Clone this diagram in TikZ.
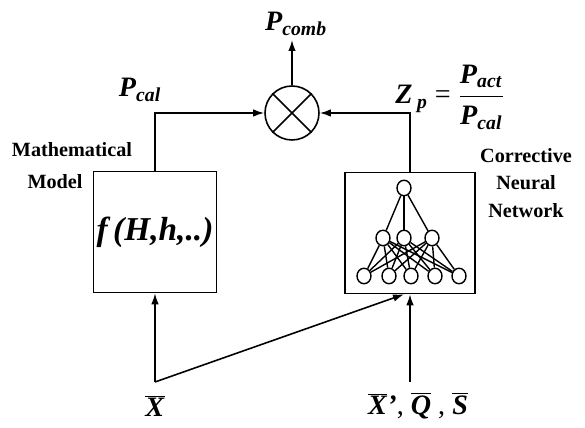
\documentclass[tikz,border=0pt]{standalone}
\usepackage{fontspec}
\setmainfont{Liberation Serif}
\usetikzlibrary{arrows.meta,positioning,calc,shapes.geometric}
\newcommand{\vv}[1]{\textbf{\textit{#1}}}
\newcommand{\ob}[1]{$\overline{\mbox{\vv{#1}}}$}

\begin{document}
\begin{tikzpicture}[x=0.02cm, y=-0.02cm, >={Latex[length=2.2mm,width=1.5mm]}, line width=0.9pt,
  blk/.style={draw, minimum width=2.46cm, minimum height=2.42cm, inner sep=0pt},
  unit/.style={draw, ellipse, minimum width=0.28cm, minimum height=0.31cm, inner sep=0pt, line width=0.8pt},
  lbl/.style={font=\fontsize{11.5}{14}\selectfont\bfseries, inner sep=0pt},
  sym/.style={font=\fontsize{16}{18}\selectfont, inner sep=1pt},
  mult/.style={draw, circle, minimum size=1.08cm, inner sep=0pt}]
  \useasboundingbox (0,0) rectangle (585,428);
  % blocks
  \node[mult] (mul) at (292,113) {};
  \draw (mul.north west) -- (mul.south east) (mul.north east) -- (mul.south west);
  \node[blk] (mm) at (155,232) {\fontsize{19}{22}\selectfont\vv{f\,(H,h,..)}};
  \node[blk, minimum width=2.6cm] (cnn) at (410,233) {};
  % the net inside the box
  \node[unit] (o) at (404,188) {};
  \foreach \j/\x in {1/383,2/404,3/432} \node[unit] (h\j) at (\x,238) {};
  \foreach \i/\x in {1/364,2/389,3/411,4/435,5/459} \node[unit] (i\i) at (\x,276) {};
  \foreach \j in {1,2,3} {
    \draw[line width=0.8pt] (o) -- (h\j);
    \foreach \i in {1,...,5} \draw[line width=0.8pt] (h\j) -- (i\i);
  }
  % labels
  \node[sym] (pcomb) at (296,24) {\vv{P}\textsubscript{\vv{comb}}};
  \node[sym] (pcal) at (140,90) {\vv{P}\textsubscript{\vv{cal}}};
  \node[sym] (zp) at (450,97) {\vv{Z}\,\textsubscript{\vv{p}} = $\displaystyle\frac{\mbox{\vv{P}\textsubscript{\vv{act}}}}{\mbox{\vv{P}\textsubscript{\vv{cal}}}}$};
  \node[lbl] (mt1) at (72,150) {Mathematical};
  \node[lbl] (mt2) at (55,182) {Model};
  \node[lbl, align=center] (nn) at (526,183) {Corrective\\[1pt]Neural\\[2pt]Network};
  \node[sym] (xin) at (155,406) {\ob{X}};
  \node[sym] (qin) at (418,406) {\ob{X}\vv{'}, \ob{Q} , \ob{S}};
  \coordinate (xs) at (155,382);
  \coordinate (qs) at (cnn.south |- xs);
  % connectors
  \draw[->] (mm.north) |- (mul.west);
  \draw[->] (cnn.north) |- (mul.east);
  \draw[->] (mul.north) -- (292,40);
  \draw[->] (xs) -- (mm.south);
  \draw[->] (xs) -- ([xshift=-0.12cm]cnn.south);
  \draw[->] (qs) -- (cnn.south);
\end{tikzpicture}
\end{document}
